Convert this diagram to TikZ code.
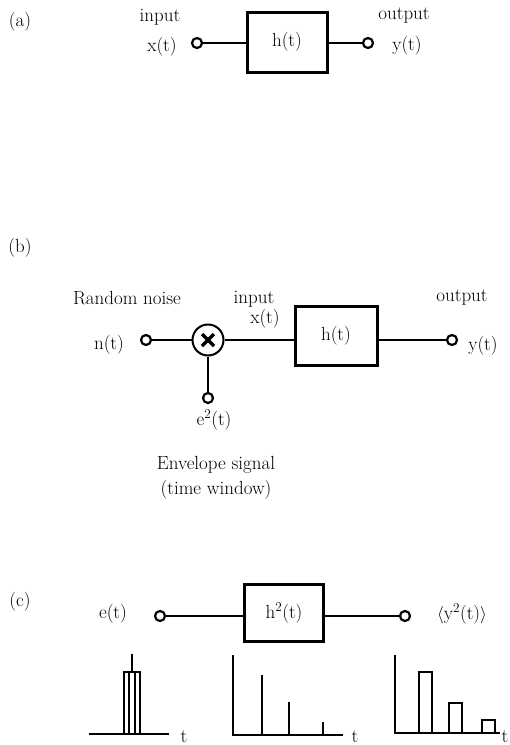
\documentclass[tikz,border=0pt]{standalone}
\usepackage{tikz}
\usetikzlibrary{calc}

\tikzset{
  term/.style={circle,draw,fill=white,line width=2.2pt,inner sep=0pt,minimum size=10pt},
  blk/.style={draw,line width=3pt,inner sep=0pt},
  txt/.style={font=\fontsize{19}{22}\selectfont,inner sep=0pt},
  wire/.style={line width=2pt},
  plt/.style={line width=1.6pt}
}

\begin{document}
\begin{tikzpicture}[x=1pt,y=1pt]
            \useasboundingbox (0,0) rectangle (510,-745);
            % (a) plain filter
            \node[txt] (laba) at (20,-22) {(a)};
            \node[blk,txt,minimum width=80pt,minimum height=60pt] (ha) at (287,-42) {h(t)};
            \node[term] (xa) at (197,-43) {};
            \node[term] (ya) at (368,-43) {};
            \draw[wire] (xa) -- (xa -| ha.west);
            \draw[wire] (ya -| ha.east) -- (ya);
            \node[txt] (ina) at (160,-17) {input};
            \node[txt] (xta) at (162,-47) {x(t)};
            \node[txt] (outa) at (404,-16) {output};
            \node[txt] (yta) at (407,-46) {y(t)};

            % (b) windowed noise through the filter
            \node[txt] (labb) at (20,-248) {(b)};
            \node[term] (nb) at (146,-340) {};
            \node[circle,draw,line width=2pt,minimum size=31pt] (mul) at (208,-340) {};
            \draw[line width=3.2pt] ($(mul)+(-6,6)$) -- ($(mul)+(6,-6)$);
            \draw[line width=3.2pt] ($(mul)+(-6,-6)$) -- ($(mul)+(6,6)$);
            \node[blk,txt,minimum width=82pt,minimum height=59pt] (hb) at (336,-336) {h(t)};
            \node[term] (yb) at (452,-340) {};
            \node[term] (eb) at (208,-398) {};
            \draw[wire] (nb) -- (mul);
            \draw[wire] (mul) -- (mul -| hb.west);
            \draw[wire] (yb -| hb.east) -- (yb);
            \draw[wire] (mul) -- (eb);
            \node[txt] (noise) at (127,-298) {Random noise};
            \node[txt] (ntb) at (109,-345) {n(t)};
            \node[txt] (inb) at (254,-299) {input};
            \node[txt] (xtb) at (265,-319) {x(t)};
            \node[txt] (outb) at (462,-298) {output};
            \node[txt] (ytb) at (483,-346) {y(t)};
            \node[txt] (etb) at (214,-420) {e\textsuperscript{2}(t)};
            \node[txt] (env) at (216,-465) {Envelope signal};
            \node[txt] (win) at (216,-490) {(time window)};

            % (c) squared response
            \node[txt] (labc) at (20,-602) {(c)};
            \node[blk,txt,minimum width=79pt,minimum height=57pt] (hc) at (284,-613) {h\textsuperscript{2}(t)};
            \node[term] (ec) at (160,-616) {};
            \node[term] (yc) at (405,-616) {};
            \draw[wire] (ec) -- (ec -| hc.west);
            \draw[wire] (yc -| hc.east) -- (yc);
            \node[txt] (etc) at (113,-614) {e(t)};
            \node[txt] (ytc) at (462,-614) {$\langle$y\textsuperscript{2}(t)$\rangle$};

            % sketches below
            \draw[plt] (89,-734) -- (169,-734);
            \draw[plt] (124,-734) rectangle (140,-672);
            \draw[plt] (129,-734) -- (129,-672);
            \draw[plt] (135,-734) -- (135,-672);
            \draw[plt] (132,-672) -- (132,-654);
            \node[txt] (t1) at (184,-737) {t};

            \draw[plt] (233,-655) -- (233,-735) -- (343,-735);
            \draw[plt] (262,-735) -- (262,-675);
            \draw[plt] (289,-735) -- (289,-702);
            \draw[plt] (323,-735) -- (323,-722);
            \node[txt] (t2) at (355,-737) {t};

            \draw[plt] (395,-655) -- (395,-733) -- (500,-733);
            \draw[plt] (419,-733) -- (419,-672) -- (432,-672) -- (432,-733);
            \draw[plt] (449,-733) -- (449,-703) -- (462,-703) -- (462,-733);
            \draw[plt] (482,-733) -- (482,-720) -- (495,-720) -- (495,-733);
            \node[txt] (t3) at (505,-737) {t};
        \end{tikzpicture}
\end{document}
